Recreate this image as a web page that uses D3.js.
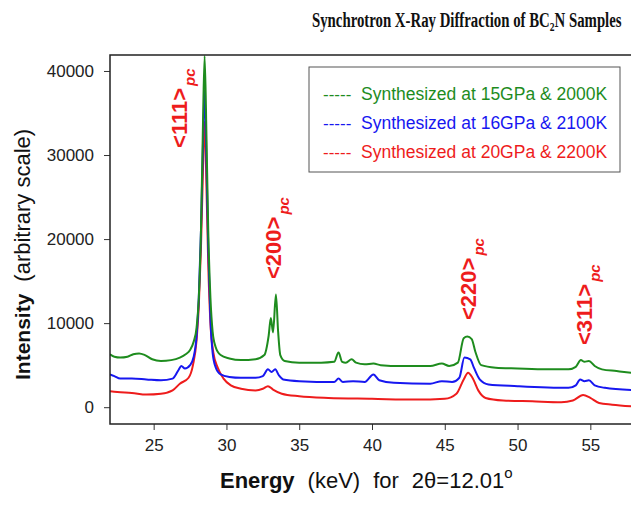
<!DOCTYPE html>
<html>
<head>
<meta charset="utf-8">
<script src="https://cdn.jsdelivr.net/npm/d3@7"></script>
<style>
  body { margin: 0; background: #fff; }
  svg { display: block; }
</style>
</head>
<body>
<div id="chart"></div>
<script>
// values (energy in keV, intensity in arbitrary units)
const greenEnergy = [22.0, 22.3, 22.7, 23.2, 23.6, 24.0, 24.4, 24.9, 25.5, 26.2, 26.8, 27.2, 27.5, 27.75, 27.95, 28.1, 28.25, 28.37, 28.5, 28.63, 28.75, 28.9, 29.05, 29.25, 29.6, 30.2, 31.0, 32.0, 32.6, 32.9, 33.05, 33.2, 33.4, 33.55, 33.7, 34.0, 35.0, 36.5, 37.4, 37.7, 37.95, 38.2, 38.6, 38.9, 39.5, 40.1, 40.6, 42.0, 44.0, 44.8, 45.3, 45.9, 46.3, 46.55, 46.85, 47.1, 47.5, 48.5, 50.0, 52.0, 53.5, 54.0, 54.35, 54.6, 54.9, 55.3, 55.8, 56.8, 57.8];
const greenIntensity = [6300, 6000, 5900, 6000, 6300, 6400, 6200, 5700, 5500, 5600, 5900, 6300, 6800, 7800, 9500, 13000, 21000, 32000, 41800, 32000, 21000, 13000, 9000, 7200, 6200, 5800, 5600, 5700, 6200, 8500, 10600, 8900, 13400, 9000, 6200, 5500, 5300, 5300, 5400, 6500, 5400, 5300, 5700, 5300, 5100, 5200, 5000, 4900, 4900, 5200, 4900, 5300, 8200, 8400, 8100, 6600, 5000, 4700, 4600, 4500, 4500, 4800, 5600, 5400, 5500, 4900, 4500, 4300, 4100];

const blueEnergy = [22.0, 22.3, 22.7, 23.5, 24.5, 25.5, 26.3, 26.7, 26.9, 27.15, 27.5, 27.75, 27.95, 28.1, 28.25, 28.37, 28.5, 28.63, 28.75, 28.9, 29.05, 29.25, 29.6, 30.2, 31.0, 32.0, 32.5, 32.85, 33.1, 33.35, 33.6, 33.9, 35.0, 37.4, 37.7, 38.0, 38.7, 39.5, 40.1, 40.5, 41.5, 44.0, 44.8, 45.5, 46.0, 46.35, 46.75, 47.0, 47.4, 48.0, 50.0, 53.5, 54.0, 54.3, 54.6, 54.9, 55.3, 56.0, 57.8];
const blueIntensity = [3900, 3700, 3400, 3400, 3300, 3200, 3400, 4400, 4900, 4600, 5000, 6000, 8500, 13000, 21000, 30000, 37700, 29000, 19000, 10500, 6500, 4800, 3900, 3600, 3500, 3500, 3700, 4500, 4200, 4500, 3800, 3300, 3100, 3000, 3400, 3000, 3100, 3000, 3900, 3200, 2900, 2800, 3100, 3000, 3500, 5900, 5700, 4700, 3300, 2700, 2500, 2300, 2600, 3300, 3100, 3200, 2600, 2300, 2050];

const redEnergy = [22.0, 22.5, 23.5, 24.5, 25.5, 26.3, 26.8, 27.4, 27.7, 27.95, 28.1, 28.25, 28.37, 28.5, 28.63, 28.75, 28.9, 29.1, 29.4, 29.8, 30.3, 31.0, 32.0, 32.5, 32.85, 33.2, 33.8, 35.0, 37.0, 40.0, 43.0, 45.0, 45.8, 46.3, 46.6, 46.9, 47.3, 47.8, 49.0, 51.0, 53.0, 53.8, 54.5, 55.0, 55.6, 56.5, 57.8];
const redIntensity = [1900, 1800, 1700, 1500, 1600, 2000, 2800, 3500, 5000, 8000, 12000, 19000, 27000, 34000, 26000, 17000, 10000, 6500, 4700, 3400, 2600, 2200, 2000, 2200, 2500, 2100, 1600, 1300, 1100, 1000, 900, 1000, 1600, 3300, 4100, 3500, 2000, 1100, 800, 700, 600, 800, 1450, 1100, 500, 300, 100];

const seriesNames = ['Synthesized at 15GPa & 2000K', 'Synthesized at 16GPa & 2100K', 'Synthesized at 20GPa & 2200K'];
const seriesColors = ['#1e8c1e', '#1717f0', '#ee1c1c'];

const xTicks = [25, 30, 35, 40, 45, 50, 55];
const yTicks = [0, 10000, 20000, 30000, 40000];

// peak labels, anchored where each rotated label starts (energy, intensity)
const peakLabels = ['<111>', '<200>', '<220>', '<311>'];
const peakLabelEnergy = [27.29, 33.75, 47.14, 55.11];
const peakLabelIntensity = [30840, 15250, 10370, 7400];

const width = 631;
const height = 505;
const margins = {top: 55, bottom: 81, left: 110, right: -3};
const plotW = width - margins.left - margins.right;
const plotH = height - margins.top - margins.bottom;
const sans = 'Liberation Sans, Arial, Helvetica, sans-serif';

const svg = d3.select('#chart')
    .append('svg')
    .attr('width', width)
    .attr('height', height);

const x_scale = d3.scaleLinear().domain([22, 58]).range([0, plotW]);
const y_scale = d3.scaleLinear().domain([-2000, 41900]).range([plotH, 0]);

const plot = svg.append('g')
    .attr('transform', 'translate(' + margins.left + ',' + margins.top + ')');

plot.append('clipPath').attr('id', 'clip')
    .append('rect').attr('width', plotW).attr('height', plotH);

const series = [
    {energy: greenEnergy, intensity: greenIntensity},
    {energy: blueEnergy, intensity: blueIntensity},
    {energy: redEnergy, intensity: redIntensity}
];

const line = d3.line()
    .x(d => x_scale(d[0]))
    .y(d => y_scale(d[1]))
    .curve(d3.curveMonotoneX);

// draw red first, green on top like the original
plot.append('g').attr('clip-path', 'url(#clip)')
    .selectAll('path')
    .data(series.map((s, i) => ({i: i, pts: d3.zip(s.energy, s.intensity)})).reverse())
    .enter()
    .append('path')
    .attr('d', d => line(d.pts))
    .attr('fill', 'none')
    .attr('stroke', d => seriesColors[d.i])
    .attr('stroke-width', 2)
    .attr('stroke-linejoin', 'round');

// axes
const x_axis = d3.axisBottom(x_scale).tickValues(xTicks).tickSize(6).tickPadding(9);
const y_axis = d3.axisLeft(y_scale).tickValues(yTicks).tickSize(6).tickPadding(10).tickFormat(d3.format('d'));

const gx = plot.append('g')
    .attr('transform', 'translate(0,' + plotH + ')')
    .call(x_axis);
const gy = plot.append('g').call(y_axis);

[gx, gy].forEach(g => {
    g.select('.domain').remove();
    g.selectAll('.tick line').attr('stroke', '#333').attr('stroke-width', 1);
    g.selectAll('.tick text')
        .attr('font-family', sans)
        .attr('font-size', '17px')
        .attr('fill', '#222');
});

plot.append('rect')
    .attr('width', plotW)
    .attr('height', plotH)
    .attr('fill', 'none')
    .attr('stroke', '#222')
    .attr('stroke-width', 1.5);

// peak labels
const lab = plot.selectAll('.peak')
    .data(peakLabels)
    .enter()
    .append('text')
    .attr('class', 'peak')
    .attr('transform', (d, i) => 'translate(' + x_scale(peakLabelEnergy[i]) + ',' + y_scale(peakLabelIntensity[i]) + ') rotate(-90)')
    .attr('font-family', sans)
    .attr('fill', '#ee1c1c')
    .attr('font-weight', 'bold');
lab.append('tspan').attr('font-size', '22px').text(d => d);
lab.append('tspan').attr('font-size', '15px').attr('font-style', 'italic').attr('dx', 2).attr('dy', 8).text('pc');

// legend
const legend = svg.append('g').attr('transform', 'translate(309,67)');
legend.append('rect')
    .attr('width', 311)
    .attr('height', 105)
    .attr('fill', '#fff')
    .attr('stroke', '#555')
    .attr('stroke-width', 1);
const items = legend.selectAll('.item')
    .data(seriesNames)
    .enter()
    .append('g')
    .attr('transform', (d, i) => 'translate(14,' + (33 + i * 29) + ')');
items.append('text')
    .attr('font-family', sans)
    .attr('font-size', '17px')
    .attr('fill', (d, i) => seriesColors[i])
    .text('-----');
items.append('text')
    .attr('x', 38)
    .attr('font-family', sans)
    .attr('font-size', '17.5px')
    .attr('fill', (d, i) => seriesColors[i])
    .text(d => d);

// title, squeezed to the narrow width of the original
const title = svg.append('text')
    .attr('font-family', 'Liberation Serif, Times New Roman, serif')
    .attr('font-weight', 'bold')
    .attr('font-size', '20px')
    .attr('fill', '#111');
title.append('tspan').text('Synchrotron X-Ray Diffraction of BC');
title.append('tspan').attr('font-size', '13px').attr('dy', 4).text('2');
title.append('tspan').attr('dy', -4).text('N Samples');
const tw = title.node().getBBox().width;
title.attr('transform', 'translate(312,27) scale(' + (310 / tw) + ',1)');

// x axis label
const xl = svg.append('text')
    .attr('x', 220)
    .attr('y', 488)
    .attr('font-family', sans)
    .attr('font-size', '22px')
    .attr('fill', '#111');
xl.append('tspan').attr('font-weight', 'bold').text('Energy');
xl.append('tspan').attr('dx', 13).text('(keV)');
xl.append('tspan').attr('dx', 13).text('for');
xl.append('tspan').attr('dx', 13).text('2\u03B8=12.01');
xl.append('tspan').attr('font-size', '15px').attr('dy', -10).text('o');

// y axis label
const yl = svg.append('text')
    .attr('transform', 'translate(30,380) rotate(-90)')
    .attr('font-family', sans)
    .attr('font-size', '22px')
    .attr('fill', '#111');
yl.append('tspan').attr('font-weight', 'bold').attr('font-size', '21px').text('Intensity');
yl.append('tspan').attr('dx', 12).text('(arbitrary scale)');
</script>
</body>
</html>
